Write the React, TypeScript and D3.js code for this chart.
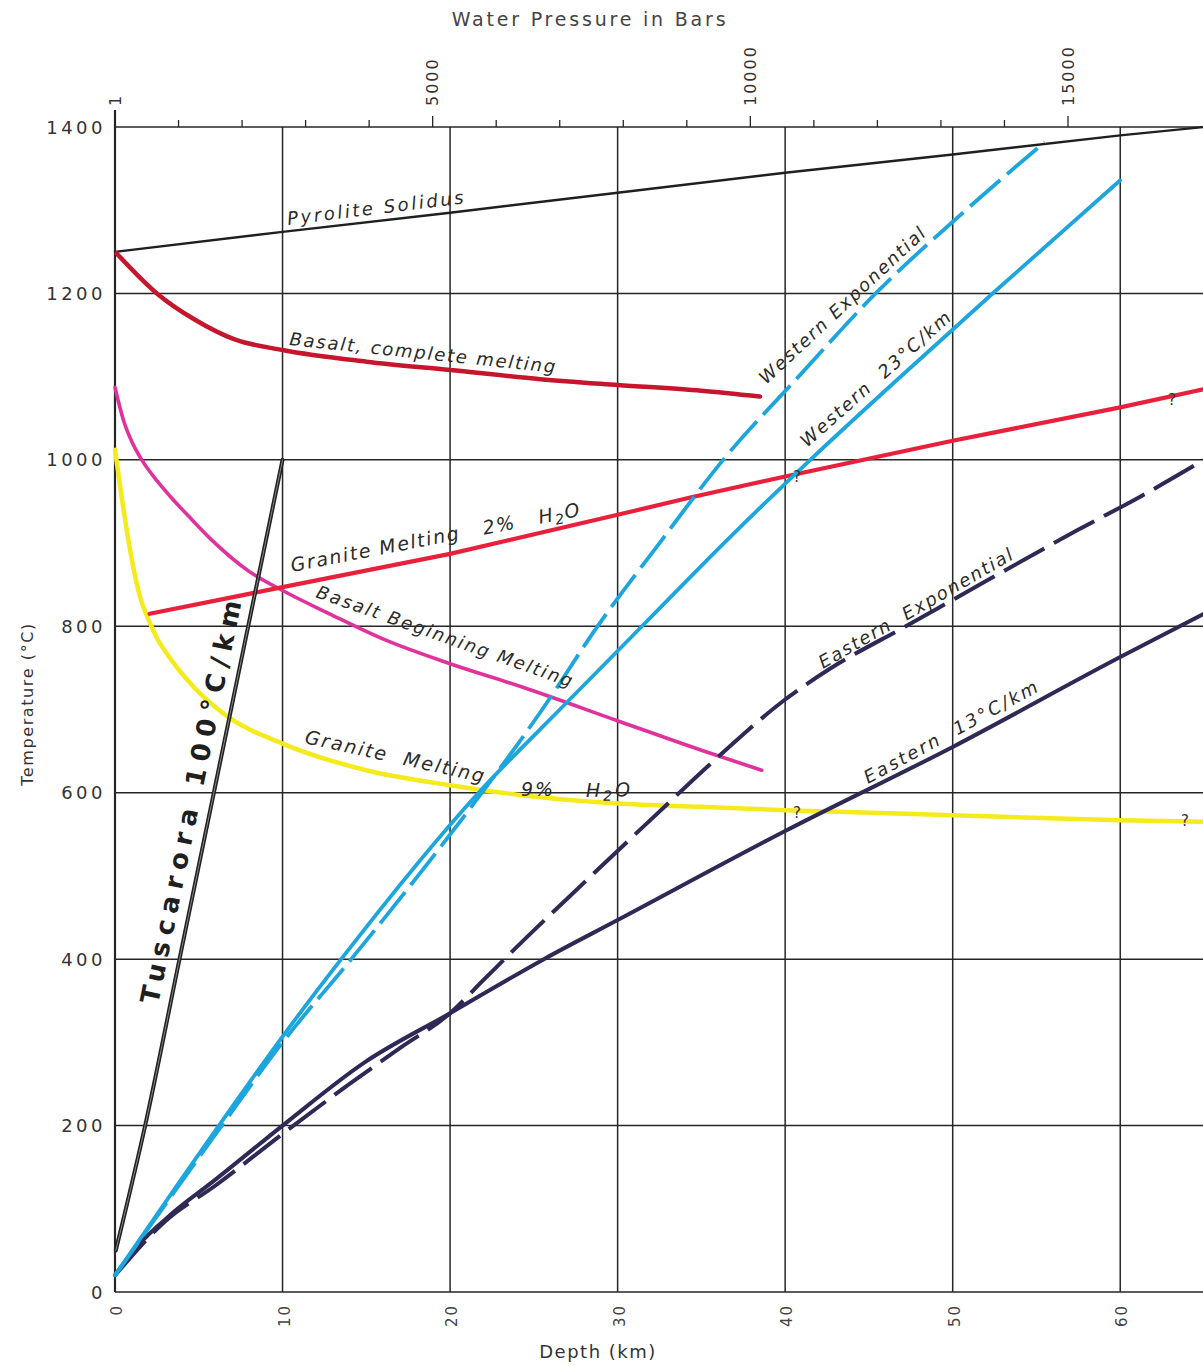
import React from "react";
import * as d3 from "d3";

type P = [number, number];

// ---- axis ticks ----
const depthTicks = [0, 10, 20, 30, 40, 50, 60];
const tempTicks = [0, 200, 400, 600, 800, 1000, 1200, 1400];
const pressureTicks = [0, 1000, 2000, 3000, 4000, 5000, 6000, 7000, 8000, 9000, 10000, 11000, 12000, 13000, 14000, 15000];
const pressureLabelValues = [0, 5000, 10000, 15000];
const pressureLabelTexts = ["1", "5000", "10000", "15000"];

// ---- series: [depth km, temperature °C] ----
const pyroliteSolidus: P[] = [[0, 1250], [10, 1274], [20, 1297], [30, 1321], [40, 1345], [50, 1367], [60, 1390], [65, 1400]];
const basaltComplete: P[] = [[0.1, 1248], [2.5, 1200], [4.8, 1168], [7.1, 1145], [10, 1132], [15, 1118], [20, 1108], [25.4, 1097], [30, 1090], [35, 1083], [38.5, 1076]];
const basaltBeginning: P[] = [[0, 1087], [0.5, 1048], [1, 1022], [1.6, 1000], [2.5, 975], [3.3, 956], [4.5, 930], [5.86, 902], [8, 866], [10, 843], [12.8, 815], [16.2, 783], [20, 755], [24.3, 727], [30.2, 685], [35, 651], [38.6, 627]];
const granite2: P[] = [[2.07, 815], [10, 847], [20, 887], [30, 934], [34.4, 955], [40, 980], [50, 1023], [60, 1063], [65, 1085]];
const granite9: P[] = [[0, 1012], [0.4, 955], [1.1, 870], [1.5, 835], [2, 808], [2.5, 786], [3.1, 767], [4.7, 727], [6.55, 694], [10, 659], [15, 627], [20, 609], [24.3, 597], [30, 587], [35, 583], [40, 579], [50, 573], [60, 567], [65, 565]];
const tuscarora: P[] = [[0.05, 50], [1.8, 200], [3.85, 400], [10, 1000]];
const western23: P[] = [[0, 20], [6.2, 200], [10, 307], [13.5, 400], [21.7, 600], [26.7, 703], [31.6, 803], [36.5, 903], [41.5, 1000], [47, 1102], [52.5, 1202], [60, 1336]];
const westernExp: P[] = [[0, 20], [6.2, 195], [10, 300], [14.1, 400], [18, 498], [21.9, 600], [25.5, 700], [28.8, 800], [32.5, 900], [36.3, 1000], [40.8, 1100], [45.4, 1200], [50.5, 1295], [55.5, 1382]];
const eastern13: P[] = [[0, 20], [1.2, 52], [3.5, 96], [5.8, 132], [10, 200], [14.9, 276], [20, 335], [25.6, 400], [30, 447], [40, 554], [50, 655], [60, 763], [65, 815]];
const easternExp: P[] = [[0, 20], [3, 85], [6, 128], [10, 190], [14, 250], [17, 293], [20, 335], [22, 375], [24, 415], [28, 492], [32, 568], [36, 643], [40, 712], [42.6, 748], [47.2, 800], [51.7, 851], [57.4, 915], [61.3, 957], [65, 1000]];

const FONT = "'DejaVu Sans', 'Liberation Sans', sans-serif";
const INK = "#2b2b2b";

export default function App() {
  const x = d3.scaleLinear().domain([0, 65]).range([115, 1204]);
  const y = d3.scaleLinear().domain([0, 1400]).range([1292, 127]);
  const xp = d3.scaleLinear().domain([0, 15000]).range([115, 1068]);

  const smooth = d3.line<P>().x((d) => x(d[0])).y((d) => y(d[1])).curve(d3.curveMonotoneX);
  const straight = d3.line<P>().x((d) => x(d[0])).y((d) => y(d[1]));

  const x0 = x(0);
  const x1 = 1203;
  const yTop = y(1400);
  const yBot = y(0);

  const label = (
    txt: React.ReactNode,
    px: number,
    py: number,
    angle: number,
    size = 18,
    ls = 1.2
  ) => (
    <text
      transform={`translate(${px},${py}) rotate(${angle})`}
      fontFamily={FONT}
      fontStyle="italic"
      fontSize={size}
      letterSpacing={ls}
      fill={INK}
      style={{ whiteSpace: "pre" }}
    >
      {txt}
    </text>
  );

  const h2o = (
    <>
      {"H"}
      <tspan fontSize={14} dy={4}>2</tspan>
      <tspan dy={-4}>O</tspan>
    </>
  );

  return (
    <svg width={1203} height={1366} style={{ position: "absolute", left: 0, top: 0, background: "#fff" }}>
      <rect x={0} y={0} width={1203} height={1366} fill="#fff" />

      {/* grid */}
      <g stroke="#262626" strokeWidth={1.5}>
        {depthTicks.map((d) => (
          <line key={"v" + d} x1={x(d)} x2={x(d)} y1={yTop} y2={yBot} />
        ))}
        {tempTicks.map((t) => (
          <line key={"h" + t} x1={x0} x2={x1} y1={y(t)} y2={y(t)} />
        ))}
        <line x1={x0} x2={x0} y1={yTop - 17} y2={yBot} strokeWidth={2.2} />
      </g>

      {/* top pressure axis */}
      <g stroke="#262626" strokeWidth={1.3}>
        {pressureTicks.map((p) => (
          <line key={"p" + p} x1={xp(p)} x2={xp(p)} y1={yTop} y2={yTop - (p % 5000 === 0 ? 11 : 7)} />
        ))}
      </g>
      {pressureLabelValues.map((p, i) => (
        <text
          key={"pl" + p}
          transform={`translate(${xp(p)},${yTop - 21}) rotate(-90)`}
          fontFamily={FONT}
          fontSize={16}
          letterSpacing={2}
          fill="#333"
          dominantBaseline="central"
        >
          {pressureLabelTexts[i]}
        </text>
      ))}
      <text x={590} y={26} textAnchor="middle" fontFamily={FONT} fontSize={19} letterSpacing={2.8} fill="#444">
        Water Pressure in Bars
      </text>

      {/* y axis labels */}
      {tempTicks.map((t) => (
        <text
          key={"yl" + t}
          x={106}
          y={y(t)}
          textAnchor="end"
          dominantBaseline="central"
          fontFamily={FONT}
          fontSize={18}
          letterSpacing={3.5}
          fill="#333"
        >
          {t}
        </text>
      ))}
      <text
        transform={`translate(27,704) rotate(-90)`}
        textAnchor="middle"
        dominantBaseline="central"
        fontFamily={FONT}
        fontSize={16}
        letterSpacing={1.6}
        fill="#333"
      >
        Temperature (°C)
      </text>

      {/* x axis labels */}
      {depthTicks.map((d) => (
        <text
          key={"xl" + d}
          transform={`translate(${x(d) + 2},${yBot + 12}) rotate(-90)`}
          textAnchor="end"
          dominantBaseline="central"
          fontFamily={FONT}
          fontSize={15}
          letterSpacing={2}
          fill="#444"
        >
          {d}
        </text>
      ))}
      <text x={598} y={1358} textAnchor="middle" fontFamily={FONT} fontSize={18} letterSpacing={1.5} fill="#333">
        Depth (km)
      </text>

      {/* curves */}
      <g fill="none" strokeLinecap="round" strokeLinejoin="round">
        <path d={straight(pyroliteSolidus) || ""} stroke="#1f1f1f" strokeWidth={2.4} />
        <path d={smooth(basaltComplete) || ""} stroke="#c5162e" strokeWidth={4.5} />
        <path d={smooth(granite9) || ""} stroke="#f5ea1c" strokeWidth={4.5} />
        <path d={smooth(basaltBeginning) || ""} stroke="#e0329c" strokeWidth={3.6} />
        <path d={straight(granite2) || ""} stroke="#e8203c" strokeWidth={4.2} />
        <path d={smooth(eastern13) || ""} stroke="#2e2955" strokeWidth={4} />
        <path d={smooth(easternExp) || ""} stroke="#2e2955" strokeWidth={4} strokeDasharray="46 11" strokeLinecap="butt" />
        <path d={smooth(western23) || ""} stroke="#1ca6dd" strokeWidth={3.8} />
        <path d={smooth(westernExp) || ""} stroke="#1ca6dd" strokeWidth={3.8} strokeDasharray="40 9" strokeLinecap="butt" />
        <path d={smooth(tuscarora) || ""} stroke="#1f1f1f" strokeWidth={4} />
        <path d={smooth(tuscarora) || ""} stroke="#8a8a8a" strokeWidth={1} />
      </g>

      {/* curve labels */}
      {label("Pyrolite Solidus", 288, 225, -7, 18, 2.6)}
      {label("Basalt, complete melting", 289, 345, 6, 18, 1.8)}
      {label(<>{"Granite Melting   2%   "}{h2o}</>, 292, 572, -11, 19, 1.7)}
      {label("Basalt Beginning Melting", 315, 597, 19.5, 18, 2)}
      {label("Granite  Melting", 304, 743, 12.5, 19, 2)}
      {label("9%", 521, 796, 0, 19, 2)}
      {label(h2o, 586, 797, -1, 19, 3)}
      {label("Western Exponential", 766, 385, -43, 18, 1.8)}
      {label("Western  23°C/km", 807, 448, -41.5, 18, 1.9)}
      {label("Eastern  Exponential", 823, 669, -30, 18, 1.8)}
      {label("Eastern  13°C/km", 868, 784, -28.5, 18, 2.4)}
      <text
        transform={`translate(158,1005) rotate(-78.3)`}
        fontFamily={FONT}
        fontWeight="bold"
        fontSize={26}
        letterSpacing={7}
        fill="#1f1f1f"
      >
        Tuscarora 100°C/km
      </text>

      {/* question marks */}
      {[[797, 482], [1172, 405], [797, 818], [1185, 826]].map((q, i) => (
        <text key={"q" + i} x={q[0]} y={q[1]} textAnchor="middle" fontFamily={FONT} fontSize={15} fill="#333">
          ?
        </text>
      ))}
    </svg>
  );
}
